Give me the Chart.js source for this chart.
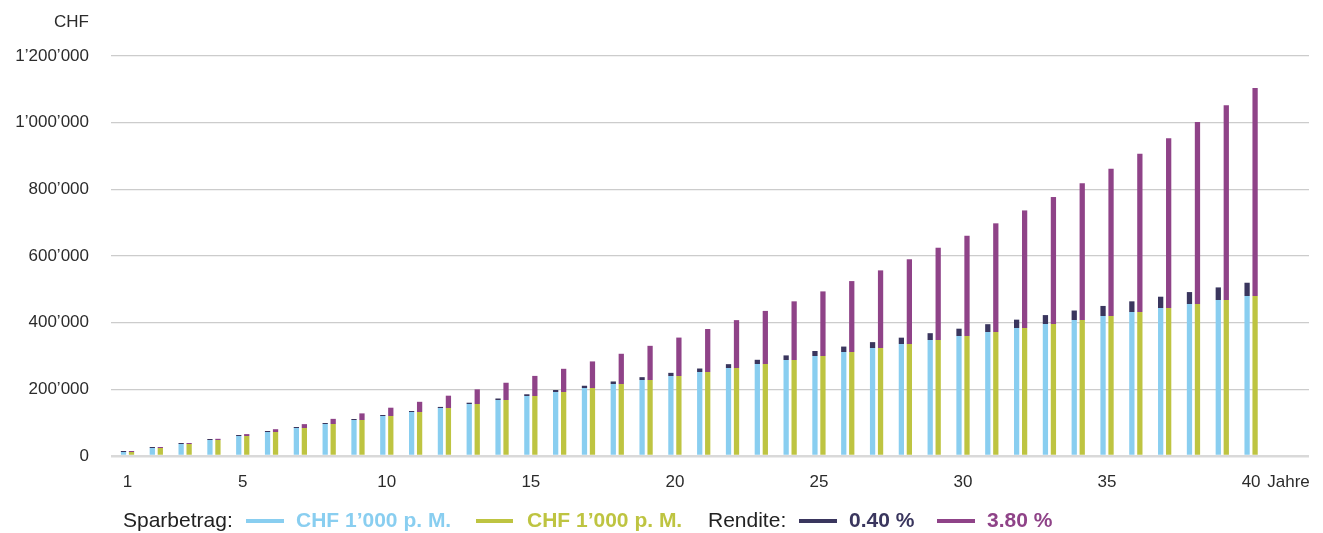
<!DOCTYPE html>
<html>
<head>
<meta charset="utf-8">
<script src="https://cdn.jsdelivr.net/npm/chart.js@4"></script>
<style>
  html, body { margin: 0; padding: 0; background: #fff; }
  #wrap { position: relative; width: 1323px; height: 533px; overflow: hidden; }
  canvas { position: absolute; left: 0; top: 0; }
  .txt { position: absolute; font-family: 'Liberation Sans', Arial, sans-serif; white-space: nowrap; }
  .lg { font-size: 21px; line-height: 24px; top: 508px; }
  .b { font-weight: bold; }
  .mk { position: absolute; height: 4px; top: 518.5px; }
</style>
</head>
<body>
<div id="wrap">
  <canvas id="c" width="1323" height="533"></canvas>
  <div class="txt" style="left:0;width:89px;text-align:right;top:12px;font-size:17px;line-height:20px;color:#2b2b2b;">CHF</div>

  <div class="txt lg" style="left:123px;color:#222;">Sparbetrag:</div>
  <div class="mk" style="left:246px;width:38px;background:#89cef0;"></div>
  <div class="txt lg b" style="left:296px;color:#89cef0;">CHF 1’000 p. M.</div>
  <div class="mk" style="left:476px;width:37px;background:#bec441;"></div>
  <div class="txt lg b" style="left:527px;color:#bec441;">CHF 1’000 p. M.</div>
  <div class="txt lg" style="left:708px;color:#222;">Rendite:</div>
  <div class="mk" style="left:799px;width:38px;background:#3a365e;"></div>
  <div class="txt lg b" style="left:849px;color:#3a365e;">0.40 %</div>
  <div class="mk" style="left:937px;width:38px;background:#8f4388;"></div>
  <div class="txt lg b" style="left:987px;color:#8f4388;">3.80 %</div>
</div>
<script>
// ---- data ----
const years = [1,2,3,4,5,6,7,8,9,10,11,12,13,14,15,16,17,18,19,20,21,22,23,24,25,26,27,28,29,30,31,32,33,34,35,36,37,38,39,40];
const sparbetrag = [12000,24000,36000,48000,60000,72000,84000,96000,108000,120000,132000,144000,156000,168000,180000,192000,204000,216000,228000,240000,252000,264000,276000,288000,300000,312000,324000,336000,348000,360000,372000,384000,396000,408000,420000,432000,444000,456000,468000,480000];
const rendite040 = [20,70,170,310,510,750,1040,1390,1780,2230,2720,3270,3860,4510,5200,5950,6750,7600,8500,9450,10460,11520,12630,13790,15010,16280,17610,18990,20430,21920,23460,25060,26720,28420,30180,31990,33860,35780,37760,39790];
const rendite380 = [180,820,1950,3570,5710,8390,11620,15430,19850,24890,30570,36930,43990,51760,60290,69610,79730,90690,102520,115260,128940,143600,159270,175990,193800,212740,232860,254200,276810,300740,326020,352730,380900,410610,441890,474820,509470,545880,584130,624290];
const xTickValues = [1,5,10,15,20,25,30,35,40];
const xUnitLabel = 'Jahre';
const xUnitPos = 41.3;
const yTicks = [0,200000,400000,600000,800000,1000000,1200000];

const colBlue = '#89cef0', colGreen = '#bec441', colNavy = '#3a365e', colPurple = '#8f4388';

function pts(arr) { return years.map((y, i) => ({ x: y, y: arr[i] })); }
function fmt(v) { return String(v).replace(/\B(?=(\d{3})+(?!\d))/g, '’'); }

const common = { categoryPercentage: 0.555, barPercentage: 0.66, borderWidth: 0 };

new Chart(document.getElementById('c'), {
  type: 'bar',
  data: {
    datasets: [
      Object.assign({ label: 'Sparbetrag A', data: pts(sparbetrag), backgroundColor: colBlue, stack: 'a' }, common),
      Object.assign({ label: 'Rendite 0.40 %', data: pts(rendite040), backgroundColor: colNavy, stack: 'a', minBarLength: 1 }, common),
      Object.assign({ label: 'Sparbetrag B', data: pts(sparbetrag), backgroundColor: colGreen, stack: 'b' }, common),
      Object.assign({ label: 'Rendite 3.80 %', data: pts(rendite380), backgroundColor: colPurple, stack: 'b', minBarLength: 1 }, common)
    ]
  },
  options: {
    responsive: false,
    animation: false,
    devicePixelRatio: 1,
    layout: { padding: { left: 0, right: 14, top: 56, bottom: 32 } },
    plugins: { legend: { display: false }, tooltip: { enabled: false } },
    scales: {
      x: {
        type: 'linear',
        stacked: true,
        offset: false,
        min: 0.427,
        max: 42.01,
        grid: { display: false, drawTicks: false },
        border: { display: false },
        afterBuildTicks: (s) => { s.ticks = xTickValues.concat([xUnitPos]).map(v => ({ value: v })); },
        afterFit: (s) => { s.height = 45; s.paddingLeft = 0; s.paddingRight = 0; },
        ticks: {
          padding: 16,
          autoSkip: false,
          maxRotation: 0,
          color: '#2b2b2b',
          font: { family: "'Liberation Sans', Arial, sans-serif", size: 17 },
          callback: (v) => (v === xUnitPos ? xUnitLabel : String(v))
        }
      },
      y: {
        stacked: true,
        min: 0,
        max: 1200000,
        border: { display: false },
        afterBuildTicks: (s) => { s.ticks = yTicks.map(v => ({ value: v })); },
        afterFit: (s) => { s.width = 111; s.paddingTop = 0; s.paddingBottom = 0; },
        grid: {
          drawTicks: false,
          color: (c) => (c.tick && c.tick.value === 0 ? '#d9d9d9' : '#cccccc'),
          lineWidth: (c) => (c.tick && c.tick.value === 0 ? 2.5 : 1.3)
        },
        ticks: {
          padding: 22,
          color: '#2b2b2b',
          font: { family: "'Liberation Sans', Arial, sans-serif", size: 17 },
          callback: (v) => fmt(v)
        }
      }
    }
  }
});
</script>
</body>
</html>
